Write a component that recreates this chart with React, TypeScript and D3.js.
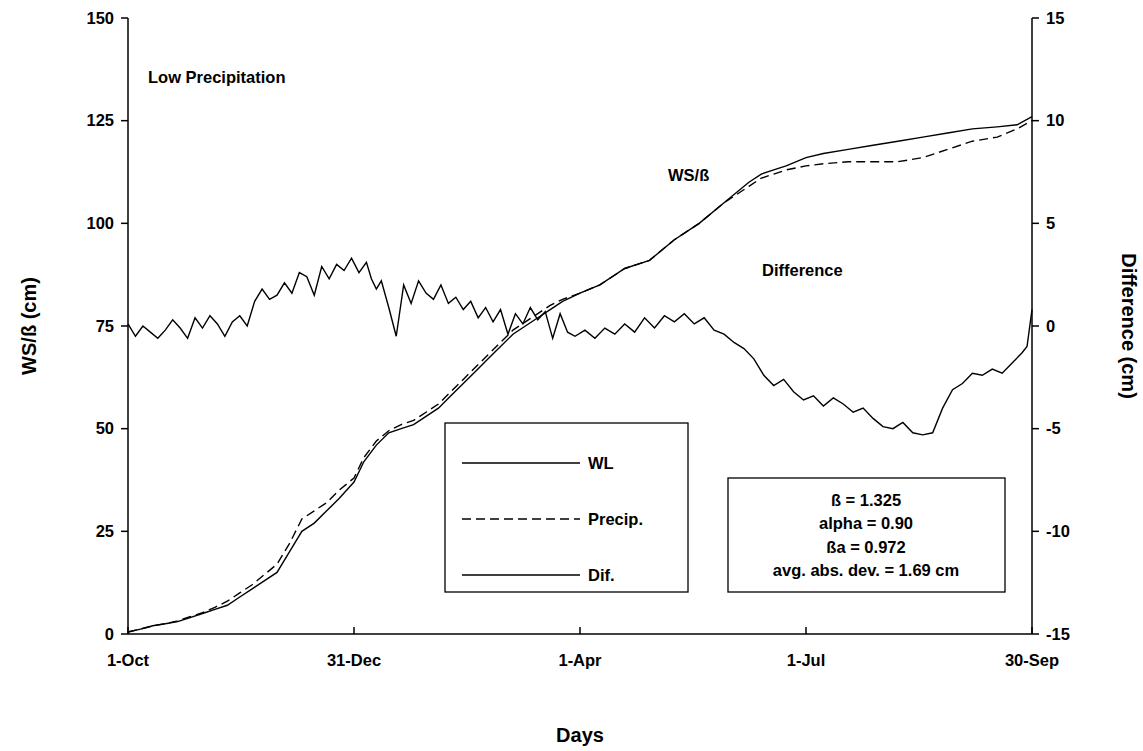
import React from "react";
import * as d3 from "d3";

const days = [0,5,10,15,20,25,30,35,40,45,50,55,60,65,70,75,80,85,91,95,100,105,110,115,120,125,130,135,140,145,150,155,160,165,170,175,182,190,200,210,220,230,240,250,255,260,265,273,280,290,300,310,320,330,340,350,358,364];
const wl = [0.5,1.2,2,2.5,3,4,5,6,7,9,11,13,15,20,25,27,30,33,37,42,46,49,50,51,53,55,58,61,64,67,70,73,75,77,79,81,83,85,89,91,96,100,105,110,112,113,114,116,117,118,119,120,121,122,123,123.5,124,126];
const precip = [0.5,1.2,2,2.5,3.2,4.2,5.2,6.5,8,10,12,14.5,17,22,28,30,32,35,38,43,47,49.5,51,52,54,56,59,62,65,68,71,74,76,78,80,81.5,83,85,89,91,96,100,105,109,111,112,113,114,114.5,115,115,115,116,118,120,121,123,125];
const difDays = [0,3,6,9,12,15,18,21,24,27,30,33,36,39,42,45,48,51,54,57,60,63,66,69,72,75,78,81,84,87,90,93,96,98,100,102,105,108,111,114,117,120,123,126,129,132,135,138,141,144,147,150,153,156,159,162,165,168,171,174,177,180,184,188,192,196,200,204,208,212,216,220,224,228,232,236,240,244,248,252,256,260,264,268,272,276,280,284,288,292,296,300,304,308,312,316,320,324,328,332,336,340,344,348,352,356,360,362,364];
const dif = [0.1,-0.5,0,-0.3,-0.6,-0.2,0.3,-0.1,-0.6,0.4,-0.1,0.5,0.1,-0.5,0.2,0.5,0,1.2,1.8,1.3,1.5,2.1,1.6,2.6,2.4,1.5,2.9,2.3,3.0,2.7,3.3,2.6,3.1,2.3,1.8,2.2,0.9,-0.5,2.0,1.1,2.2,1.6,1.3,2.0,1.1,1.4,0.8,1.2,0.4,0.9,0.2,0.8,-0.4,0.6,0.1,0.9,0.3,0.7,-0.6,0.6,-0.3,-0.5,-0.2,-0.6,-0.1,-0.4,0.1,-0.3,0.4,-0.1,0.5,0.2,0.6,0.1,0.4,-0.2,-0.4,-0.8,-1.1,-1.6,-2.4,-2.9,-2.6,-3.2,-3.6,-3.4,-3.9,-3.5,-3.8,-4.2,-4.0,-4.5,-4.9,-5.0,-4.7,-5.2,-5.3,-5.2,-4.0,-3.1,-2.8,-2.3,-2.4,-2.1,-2.3,-1.8,-1.3,-1.0,0.8];
const leftTicks = [0,25,50,75,100,125,150];
const rightTicks = [-15,-10,-5,0,5,10,15];
const xTickDays = [0,91,182,273,364];
const xTickLabels = ["1-Oct","31-Dec","1-Apr","1-Jul","30-Sep"];
const statLines = ["ß = 1.325","alpha = 0.90","ßa = 0.972","avg. abs. dev. = 1.69 cm"];

export default function App() {
  const L = 128, R = 1032, T = 18, B = 634;
  const x = d3.scaleLinear().domain([0, 364]).range([L, R]);
  const yl = d3.scaleLinear().domain([0, 150]).range([B, T]);
  const yr = d3.scaleLinear().domain([-15, 15]).range([B, T]);
  const wlPath = d3.line<number>().x((_, i) => x(days[i])).y(d => yl(d))(wl)!;
  const prPath = d3.line<number>().x((_, i) => x(days[i])).y(d => yl(d))(precip)!;
  const dfPath = d3.line<number>().x((_, i) => x(difDays[i])).y(d => yr(d))(dif)!;
  const f = "Liberation Sans, Arial, sans-serif";
  const fs = 16.5;
  return (
    <svg width={1143} height={751} style={{ position: "absolute", left: 0, top: 0 }} fontFamily={f}>
      <rect width={1143} height={751} fill="#fff" />
      <line x1={L} x2={L} y1={T} y2={B} stroke="#000" strokeWidth={1.5} />
      <line x1={R} x2={R} y1={T} y2={B} stroke="#000" strokeWidth={1.5} />
      <line x1={L} x2={R} y1={B} y2={B} stroke="#000" strokeWidth={1.5} />
      <g fontWeight="bold" fontSize={fs}>
      {leftTicks.map(t => (
        <g key={"l" + t}>
          <line x1={L - 7} x2={L} y1={yl(t)} y2={yl(t)} stroke="#000" strokeWidth={1.5} />
          <text x={L - 14} y={yl(t)} dy="0.35em" textAnchor="end">{t}</text>
        </g>
      ))}
      {rightTicks.map(t => (
        <g key={"r" + t}>
          <line x1={R} x2={R + 7} y1={yr(t)} y2={yr(t)} stroke="#000" strokeWidth={1.5} />
          <text x={R + 14} y={yr(t)} dy="0.35em" textAnchor="start">{t}</text>
        </g>
      ))}
      {xTickDays.map((d, i) => (
        <g key={"x" + d}>
          <line x1={x(d)} x2={x(d)} y1={B} y2={B - 7} stroke="#000" strokeWidth={1.5} />
          <text x={x(d)} y={B + 32} textAnchor="middle">{xTickLabels[i]}</text>
        </g>
      ))}
      </g>
      <text transform="translate(36,326) rotate(-90)" textAnchor="middle" fontSize={20} fontWeight="bold">WS/ß (cm)</text>
      <text transform="translate(1122,326) rotate(90)" textAnchor="middle" fontSize={20} fontWeight="bold">Difference (cm)</text>
      <text x={580} y={742} textAnchor="middle" fontSize={20} fontWeight="bold">Days</text>
      <path d={prPath} fill="none" stroke="#000" strokeWidth={1.4} strokeDasharray="9,5" />
      <path d={wlPath} fill="none" stroke="#000" strokeWidth={1.4} />
      <path d={dfPath} fill="none" stroke="#000" strokeWidth={1.4} />
      <g fontSize={fs} fontWeight="bold">
      <text x={148} y={83}>Low Precipitation</text>
      <text x={668} y={181}>WS/ß</text>
      <text x={762} y={276}>Difference</text>
      <rect x={445} y={423} width={243} height={169} fill="#fff" stroke="#000" strokeWidth={1.3} />
      {["WL","Precip.","Dif."].map((s, i) => {
        const yy = [463, 519, 575][i];
        return (
          <g key={s}>
            <line x1={462} x2={580} y1={yy} y2={yy} stroke="#000" strokeWidth={1.3} strokeDasharray={i === 1 ? "9,5" : undefined} />
            <text x={588} y={yy} dy="0.35em">{s}</text>
          </g>
        );
      })}
      <rect x={728} y={478} width={277} height={114} fill="#fff" stroke="#000" strokeWidth={1.3} />
      {statLines.map((s, i) => (
        <text key={s} x={866} y={500 + i * 23.5} dy="0.35em" textAnchor="middle">{s}</text>
      ))}
      </g>
    </svg>
  );
}
